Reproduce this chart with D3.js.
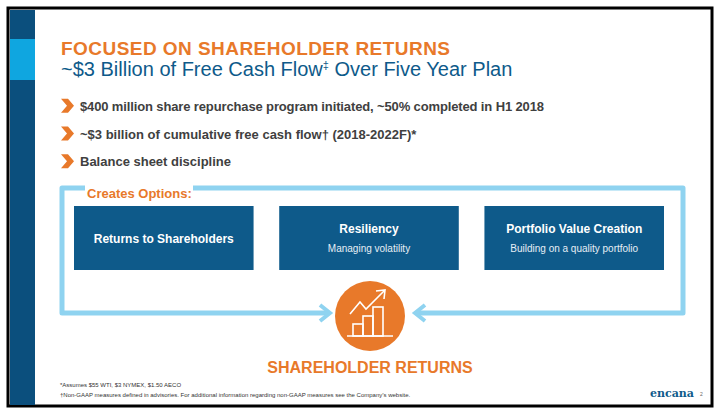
<!DOCTYPE html><html><head><meta charset="utf-8"><script src="https://cdn.jsdelivr.net/npm/d3@7"></script>
<style>body{margin:0;background:#fff}</style></head><body><svg id="s" width="720" height="414"></svg>
<script>
const bullets=["$400 million share repurchase program initiated, ~50% completed in H1 2018","~$3 billion of cumulative free cash flow\u2020 (2018-2022F)*","Balance sheet discipline"];
const boxTitles=["Returns to Shareholders","Resiliency","Portfolio Value Creation"];
const boxSubs=["","Managing volatility","Building on a quality portfolio"];
const footnotes=["*Assumes $55 WTI, $3 NYMEX, $1.50 AECO","\u2020Non-GAAP measures defined in advisories. For additional information regarding non-GAAP measures see the Company\u2019s website."];
const OR="#e8792a",DB="#0e5a8a",LB="#8fd3f0",TX="#404040",F="Arial, 'Liberation Sans', sans-serif";
const s=d3.select("#s");
s.append("rect").attr("x",8).attr("y",8).attr("width",704).attr("height",398).attr("fill","#fff").attr("stroke","#000").attr("stroke-width",3);
s.append("rect").attr("x",10).attr("y",10).attr("width",25).attr("height",395).attr("fill","#0b4f7d");
s.append("rect").attr("x",10).attr("y",39).attr("width",25).attr("height",41).attr("fill","#0fa6e0");
s.append("text").attr("x",61).attr("y",55).attr("font-family",F).attr("font-weight","bold").attr("font-size",19).attr("fill",OR).attr("textLength",389).text("FOCUSED ON SHAREHOLDER RETURNS");
const t2=s.append("text").attr("x",61).attr("y",76).attr("font-family",F).attr("font-size",20).attr("fill",DB).text("~$3 Billion of Free Cash Flow");
t2.append("tspan").attr("dy",-7).attr("font-size",11).text("\u2021");
t2.append("tspan").attr("dy",7).text(" Over Five Year Plan");
const by=d3.scaleBand().domain(d3.range(bullets.length)).range([92,175]);
bullets.forEach((b,i)=>{const y=by(i)+by.bandwidth()/2;
 s.append("path").attr("d",`M61,${y-7}L68,${y-7}L74,${y}L68,${y+7}L61,${y+7}L67,${y}Z`).attr("fill",OR);
 s.append("text").attr("x",80).attr("y",y+5).attr("font-family",F).attr("font-weight","bold").attr("font-size",13).attr("fill",TX).attr("textLength",i==0?464:null).text(b);});
s.append("path").attr("d","M193,188 L683,188 L683,313 L418,313").attr("fill","none").attr("stroke",LB).attr("stroke-width",5).attr("stroke-linejoin","round");
s.append("path").attr("d","M85,188 L62,188 L62,313 L328,313").attr("fill","none").attr("stroke",LB).attr("stroke-width",5).attr("stroke-linejoin","round");
s.append("path").attr("d","M320,305 L330,313 L320,321").attr("fill","none").attr("stroke",LB).attr("stroke-width",4);
s.append("path").attr("d","M425,305 L415,313 L425,321").attr("fill","none").attr("stroke",LB).attr("stroke-width",4);
s.append("text").attr("x",87).attr("y",198).attr("font-family",F).attr("font-weight","bold").attr("font-size",13).attr("fill",OR).text("Creates Options:");
const bx=d3.scaleBand().domain(d3.range(3)).range([74,664]).paddingInner(0.125);
boxTitles.forEach((t,i)=>{const x=bx(i),w=bx.bandwidth();
 s.append("rect").attr("x",x).attr("y",206).attr("width",w).attr("height",64).attr("fill",DB);
 s.append("text").attr("x",x+w/2).attr("y",boxSubs[i]?233:243).attr("text-anchor","middle").attr("font-family",F).attr("font-weight","bold").attr("font-size",12).attr("fill","#fff").text(t);
 if(boxSubs[i])s.append("text").attr("x",x+w/2).attr("y",252).attr("text-anchor","middle").attr("font-family",F).attr("font-size",10).attr("fill","#e6eef5").text(boxSubs[i]);});
const cx=370,cy=316;
s.append("circle").attr("cx",cx).attr("cy",cy).attr("r",35).attr("fill",OR);
const g=s.append("g").attr("fill","none").attr("stroke","#fff").attr("stroke-width",1.6);
g.append("path").attr("d",`M${cx-23},${cy+20}L${cx+23},${cy+20}`);
g.append("rect").attr("x",cx-17).attr("y",cy+8).attr("width",10).attr("height",12);
g.append("rect").attr("x",cx-7).attr("y",cy).attr("width",10).attr("height",20);
g.append("rect").attr("x",cx+3).attr("y",cy-9).attr("width",10).attr("height",29);
g.append("path").attr("d",`M${cx-20},${cy-2}L${cx-10},${cy-14}L${cx-4},${cy-7}L${cx+14},${cy-25}`);
g.append("path").attr("d",`M${cx+6},${cy-25}L${cx+15},${cy-26}L${cx+14},${cy-17}`);
s.append("text").attr("x",370).attr("y",373).attr("text-anchor","middle").attr("font-family",F).attr("font-weight","bold").attr("font-size",16).attr("fill",OR).text("SHAREHOLDER RETURNS");
footnotes.forEach((f,i)=>s.append("text").attr("x",60).attr("y",387+i*10).attr("font-family",F).attr("font-size",6).attr("fill","#333").text(f));
s.append("text").attr("x",650).attr("y",397).attr("font-family","'DejaVu Serif',serif").attr("font-weight","bold").attr("font-size",11).attr("fill",DB).text("encana");
s.append("text").attr("x",700).attr("y",396).attr("font-family",F).attr("font-size",5).attr("fill","#666").text("2");
</script></body></html>
